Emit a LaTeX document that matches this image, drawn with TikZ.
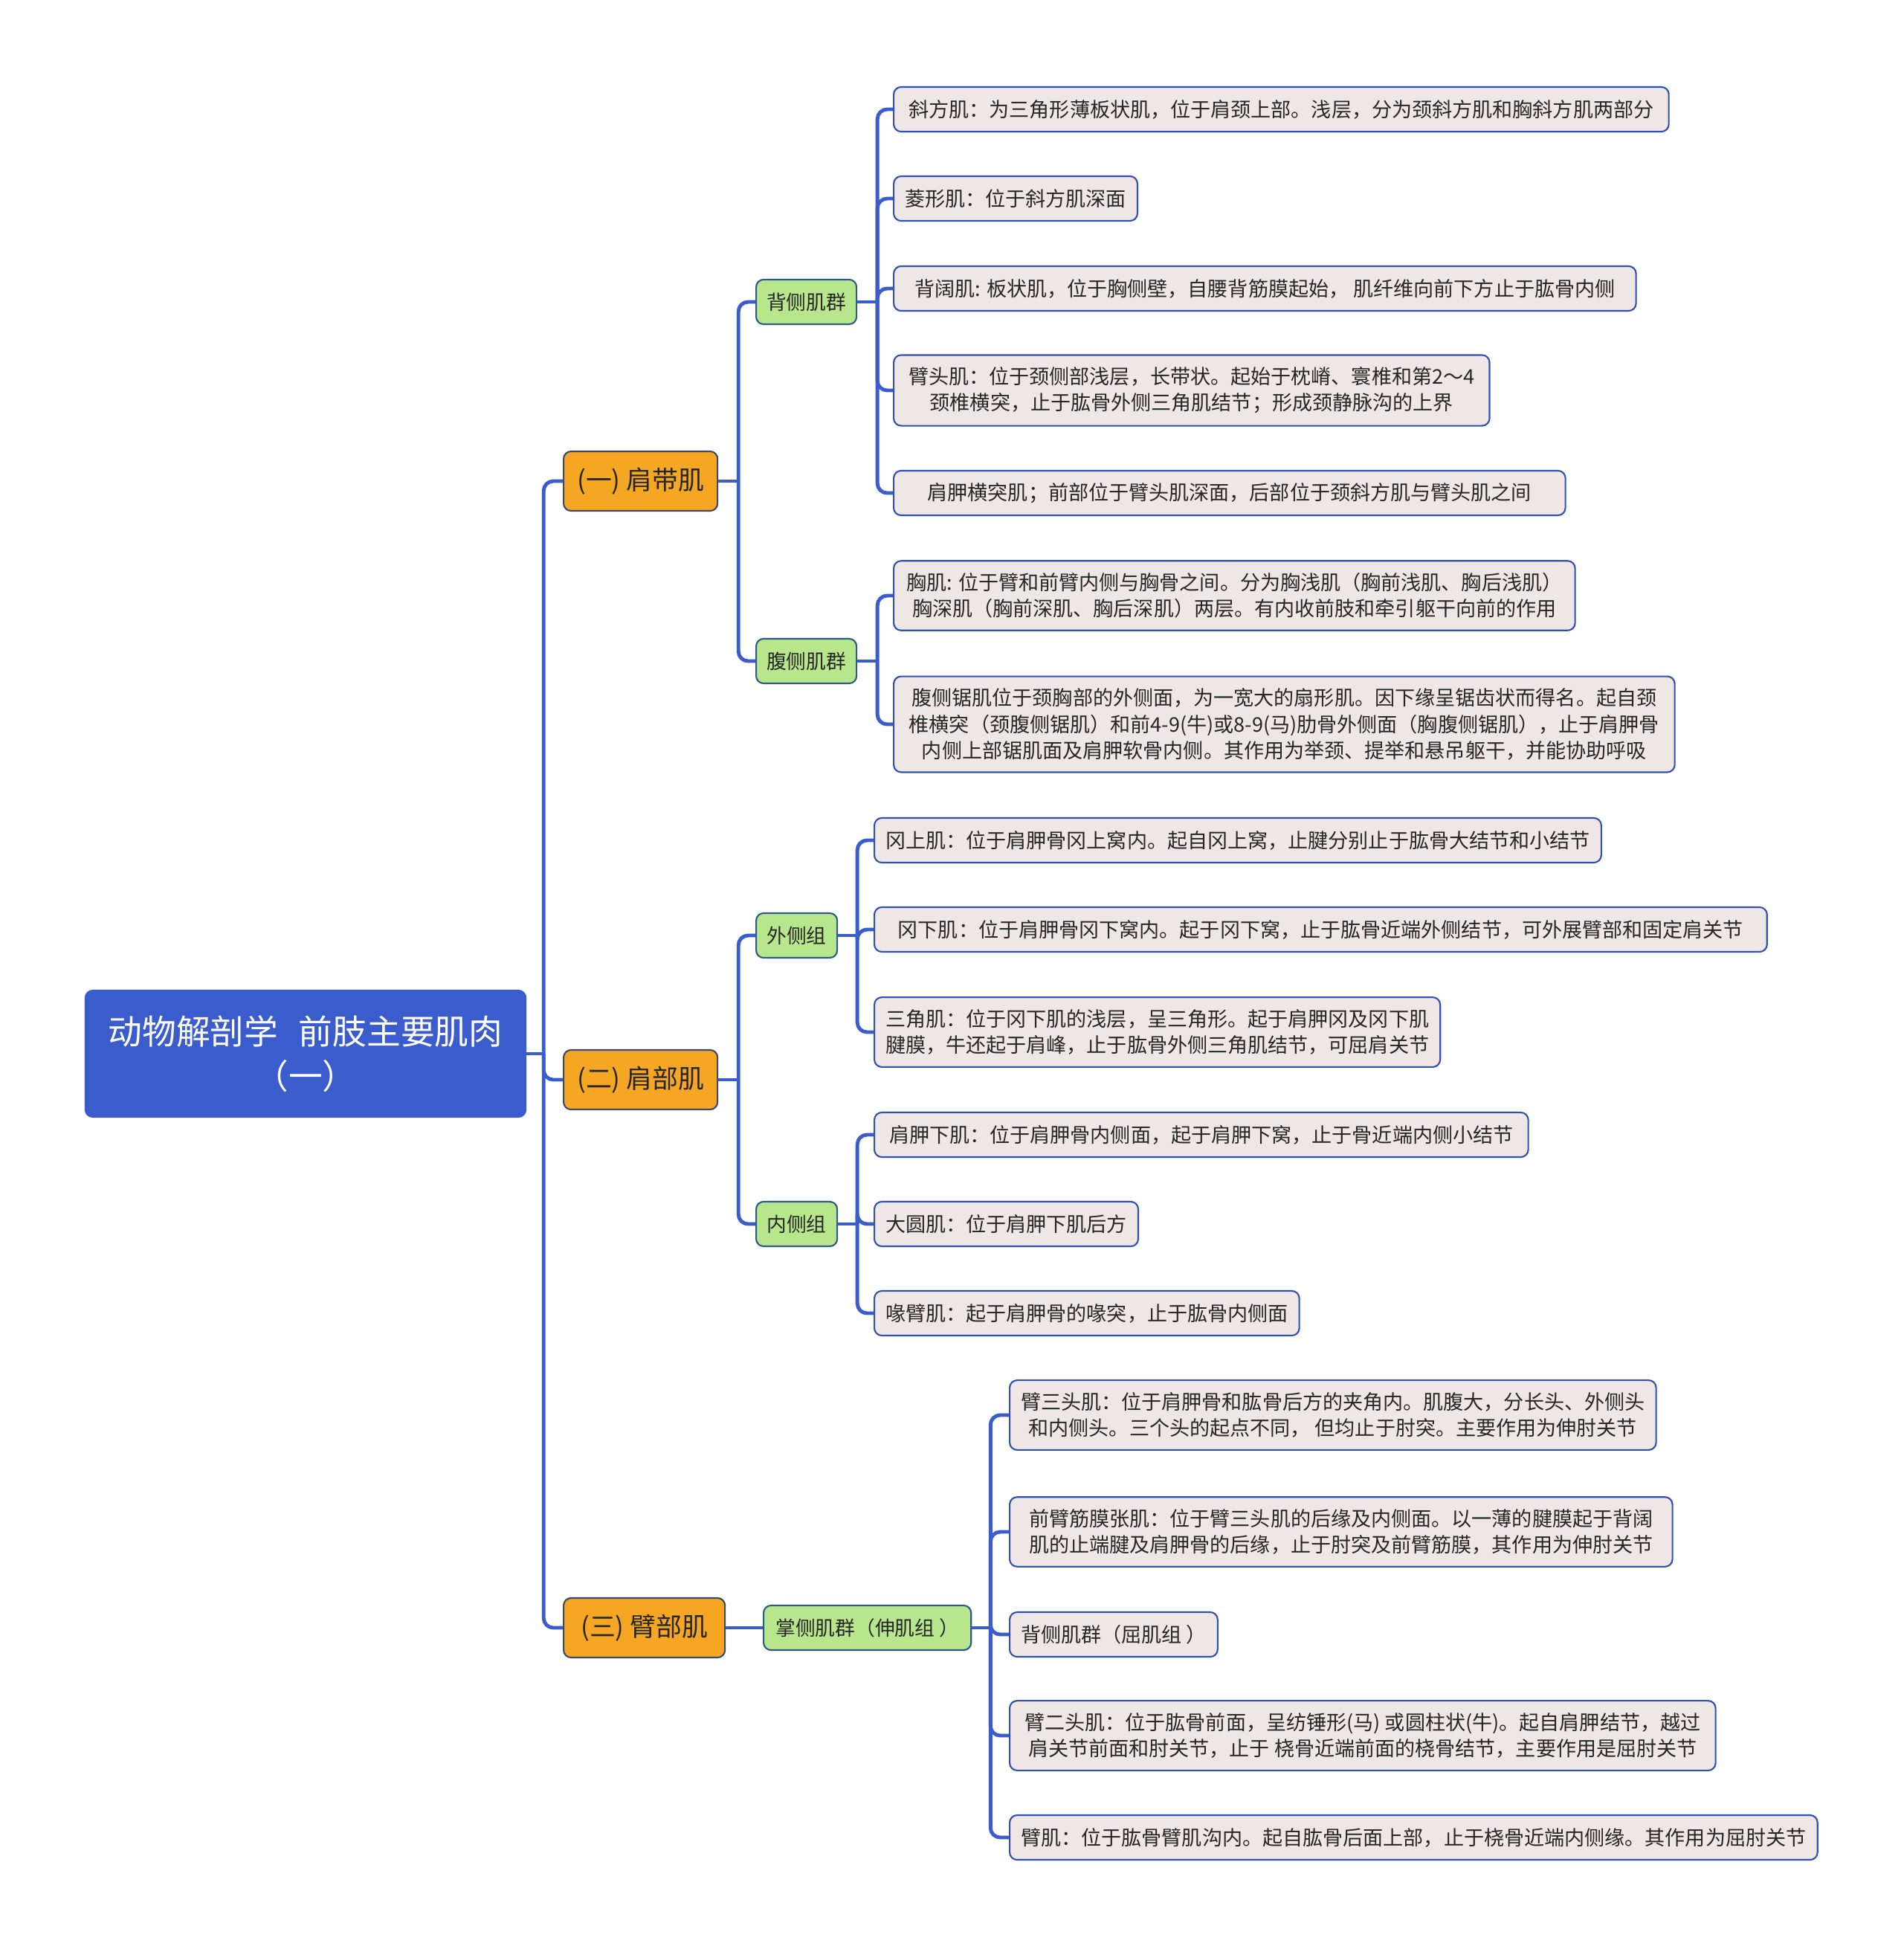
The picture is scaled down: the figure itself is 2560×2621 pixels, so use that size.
\documentclass[tikz,border=0pt]{standalone}
\usepackage{fontspec}
\setmainfont{Noto Sans CJK SC}
\definecolor{wireblue}{HTML}{3B5CCC}
\definecolor{rootblue}{HTML}{3B5CCC}
\definecolor{partfill}{HTML}{F5A623}
\definecolor{partdraw}{HTML}{3A4A6E}
\definecolor{grpfill}{HTML}{B8E68C}
\definecolor{grpdraw}{HTML}{2C5A8C}
\definecolor{leaffill}{HTML}{EFE6E6}
\definecolor{leafdraw}{HTML}{3050B4}
\begin{document}
\begin{tikzpicture}[
  x=0.01cm, y=-0.01cm,
  box/.style={draw, rounded corners=0.1cm, line width=0.6pt, align=center, text=black!85},
  root/.style={box, draw=rootblue, fill=rootblue, text=white, minimum width=5.92cm, minimum height=1.7cm, font=\fontsize{13}{17}\selectfont},
  part/.style={box, anchor=west, draw=partdraw, fill=partfill, minimum width=2.07cm, minimum height=0.8cm, font=\fontsize{9.9}{12}\selectfont},
  grp/.style={box, anchor=west, draw=grpdraw, fill=grpfill, minimum height=0.6cm, font=\fontsize{7.6}{10}\selectfont},
  leaf/.style={box, anchor=west, draw=leafdraw, fill=leaffill, minimum height=0.6cm, inner xsep=0.15cm, inner ysep=0.163cm, font=\fontsize{7.7}{10}\selectfont},
  wire/.style={draw=wireblue, line width=1.4pt, rounded corners=0.13cm}
]
\useasboundingbox (0,0) rectangle (2560,2621);

\node[root] (title) at (411,1417) {动物解剖学\hspace{0.6em}前肢主要肌肉\\（一）};

% first level
\node[part] (p1) at (757,647) {(一) 肩带肌};
\node[part] (p2) at (757,1452) {(二) 肩部肌};
\node[part, minimum width=2.17cm] (p3) at (757,2189) {(三) 臂部肌};

% second level
\node[grp, minimum width=1.35cm] (g1) at (1016,406) {背侧肌群};
\node[grp, minimum width=1.35cm] (g2) at (1016,889) {腹侧肌群};
\node[grp, minimum width=1.09cm] (g3) at (1016,1258) {外侧组};
\node[grp, minimum width=1.09cm] (g4) at (1016,1646) {内侧组};
\node[grp, minimum width=2.79cm] (g5) at (1026,2189) {掌侧肌群（伸肌组 ）};

% leaves
\node[leaf, minimum width=10.42cm] (c1) at (1201,147) {斜方肌：为三角形薄板状肌，位于肩颈上部。浅层，分为颈斜方肌和胸斜方肌两部分};
\node[leaf, minimum width=3.26cm] (c2) at (1201,267) {菱形肌：位于斜方肌深面};
\node[leaf, minimum width=9.98cm] (c3) at (1201,388) {背阔肌: 板状肌，位于胸侧壁，自腰背筋膜起始， 肌纤维向前下方止于肱骨内侧};
\node[leaf, minimum width=8.01cm] (c4) at (1201,525) {臂头肌：位于颈侧部浅层，长带状。起始于枕嵴、寰椎和第2～4\\颈椎横突，止于肱骨外侧三角肌结节；形成颈静脉沟的上界};
\node[leaf, minimum width=9.03cm] (c5) at (1201,663) {肩胛横突肌；前部位于臂头肌深面，后部位于颈斜方肌与臂头肌之间};
\node[leaf, minimum width=9.16cm] (c6) at (1201,801) {胸肌: 位于臂和前臂内侧与胸骨之间。分为胸浅肌（胸前浅肌、胸后浅肌）\\胸深肌（胸前深肌、胸后深肌）两层。有内收前肢和牵引躯干向前的作用};
\node[leaf, minimum width=10.5cm] (c7) at (1201,974) {腹侧锯肌位于颈胸部的外侧面，为一宽大的扇形肌。因下缘呈锯齿状而得名。起自颈\\椎横突（颈腹侧锯肌）和前4-9(牛)或8-9(马)肋骨外侧面（胸腹侧锯肌），止于肩胛骨\\内侧上部锯肌面及肩胛软骨内侧。其作用为举颈、提举和悬吊躯干，并能协助呼吸};
\node[leaf, minimum width=9.77cm] (c8) at (1175,1130) {冈上肌：位于肩胛骨冈上窝内。起自冈上窝，止腱分别止于肱骨大结节和小结节};
\node[leaf, minimum width=12cm] (c9) at (1175,1250) {冈下肌：位于肩胛骨冈下窝内。起于冈下窝，止于肱骨近端外侧结节，可外展臂部和固定肩关节};
\node[leaf, minimum width=7.6cm] (c10) at (1175,1388) {三角肌：位于冈下肌的浅层，呈三角形。起于肩胛冈及冈下肌\\腱膜，牛还起于肩峰，止于肱骨外侧三角肌结节，可屈肩关节};
\node[leaf, minimum width=8.79cm] (c11) at (1175,1526) {肩胛下肌：位于肩胛骨内侧面，起于肩胛下窝，止于骨近端内侧小结节};
\node[leaf, minimum width=3.52cm] (c12) at (1175,1646) {大圆肌：位于肩胛下肌后方};
\node[leaf, minimum width=5.7cm] (c13) at (1175,1766) {喙臂肌：起于肩胛骨的喙突，止于肱骨内侧面};
\node[leaf, minimum width=8.69cm] (c14) at (1357,1903) {臂三头肌：位于肩胛骨和肱骨后方的夹角内。肌腹大，分长头、外侧头\\和内侧头。三个头的起点不同， 但均止于肘突。主要作用为伸肘关节};
\node[leaf, minimum width=8.91cm] (c15) at (1357,2060) {前臂筋膜张肌：位于臂三头肌的后缘及内侧面。以一薄的腱膜起于背阔\\肌的止端腱及肩胛骨的后缘，止于肘突及前臂筋膜，其作用为伸肘关节};
\node[leaf, minimum width=2.77cm] (c16) at (1357,2198) {背侧肌群（屈肌组 ）};
\node[leaf, minimum width=9.49cm] (c17) at (1357,2334) {臂二头肌：位于肱骨前面，呈纺锤形(马) 或圆柱状(牛)。起自肩胛结节，越过\\肩关节前面和肘关节，止于 桡骨近端前面的桡骨结节，主要作用是屈肘关节};
\node[leaf, minimum width=10.86cm] (c18) at (1357,2471) {臂肌：位于肱骨臂肌沟内。起自肱骨后面上部，止于桡骨近端内侧缘。其作用为屈肘关节};

% connectors
\draw[wire] (title.east) -- ++(23,0) coordinate (j0);
\foreach \n in {p1,p2,p3} \draw[wire] (j0) |- (\n.west);
\draw[wire] (p1.east) -- ++(27,0) coordinate (j1);
\foreach \n in {g1,g2} \draw[wire] (j1) |- (\n.west);
\draw[wire] (p2.east) -- ++(27,0) coordinate (j2);
\foreach \n in {g3,g4} \draw[wire] (j2) |- (\n.west);
\draw[wire] (p3.east) -- (g5.west);
\draw[wire] (g1.east) -- ++(27,0) coordinate (j3);
\foreach \n in {c1,c2,c3,c4,c5} \draw[wire] (j3) |- (\n.west);
\draw[wire] (g2.east) -- ++(27,0) coordinate (j4);
\foreach \n in {c6,c7} \draw[wire] (j4) |- (\n.west);
\draw[wire] (g3.east) -- ++(26,0) coordinate (j5);
\foreach \n in {c8,c9,c10} \draw[wire] (j5) |- (\n.west);
\draw[wire] (g4.east) -- ++(26,0) coordinate (j6);
\foreach \n in {c11,c12,c13} \draw[wire] (j6) |- (\n.west);
\draw[wire] (g5.east) -- ++(25,0) coordinate (j7);
\foreach \n in {c14,c15,c16,c17,c18} \draw[wire] (j7) |- (\n.west);
\end{tikzpicture}
\end{document}
